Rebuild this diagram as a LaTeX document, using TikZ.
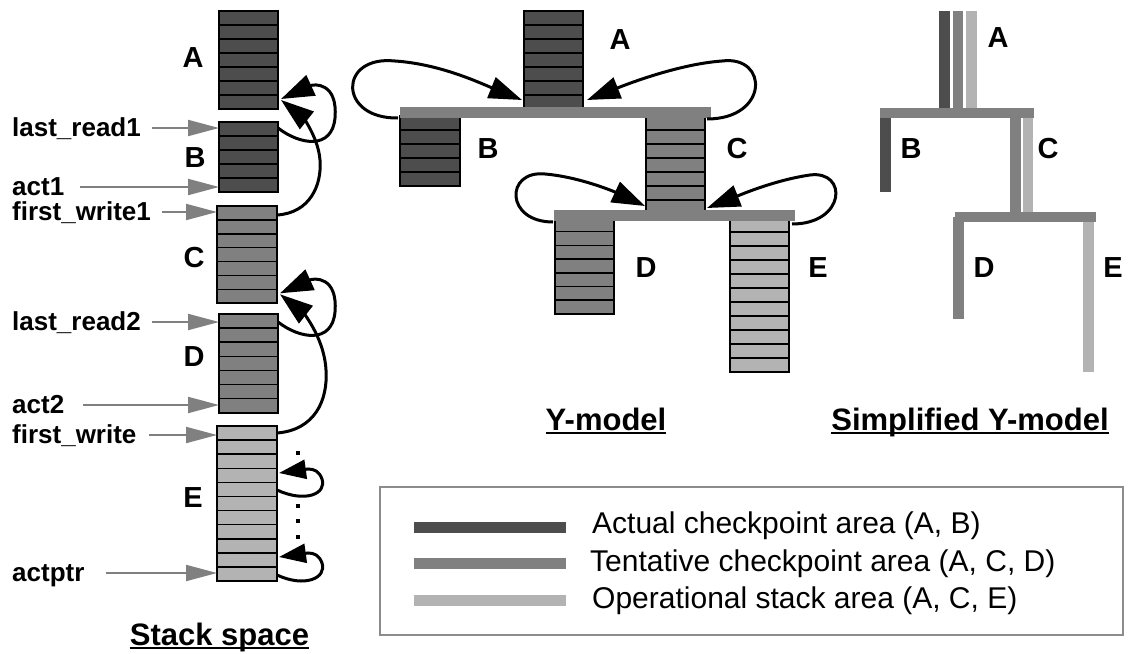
\documentclass[tikz,border=0pt]{standalone}
\usepackage{fontspec}
\setmainfont{Liberation Sans}
\usetikzlibrary{arrows.meta}

\definecolor{darkg}{HTML}{4D4D4D}
\definecolor{midg}{HTML}{808080}
\definecolor{lightg}{HTML}{B3B3B3}
\definecolor{framegray}{HTML}{8C8C8C}

% stack block of rows: name, x, y top, width, rows, row height, fill
\newcommand\rowblock[7]{%
  \pgfmathsetmacro\rbH{#5*#6}%
  \node[blk, fill=#7, minimum width=#4pt, minimum height=\rbH pt, anchor=north west] (#1) at (#2,#3) {};
  \pgfmathtruncatemacro\rbLast{#5-1}%
  \foreach \k in {1,...,\rbLast}{%
    \pgfmathsetmacro\rbY{#3+\k*#6}%
    \draw[rowline] (#2,\rbY) -- ++(#4,0);
  }%
}

\begin{document}
\begin{tikzpicture}[x=1pt,y=-1pt,
  lbl/.style={font=\fontsize{29}{31}\selectfont\bfseries, inner sep=0pt},
  ptrlbl/.style={font=\fontsize{26}{28}\selectfont\bfseries, inner sep=0pt, anchor=west, text height=17pt, text depth=0pt},
  ttl/.style={font=\fontsize{31}{34}\selectfont\bfseries, inner sep=0pt, anchor=base},
  leg/.style={font=\fontsize{30}{32}\selectfont, inner sep=0pt, anchor=base west},
  blk/.style={draw=black, line width=1.8pt, inner sep=0pt, outer sep=0pt},
  rowline/.style={line width=1.5pt},
  loopa/.style={line width=3pt, -{Triangle[length=33pt,width=22pt]}},
  loopb/.style={line width=3pt, -{Triangle[length=27pt,width=19pt]}},
  ptr/.style={draw=midg, line width=2pt, -{Triangle[length=31pt,width=16pt,fill=midg]}},
  uline/.style={line width=2.5pt},
  bar/.style={fill=midg, inner sep=0pt, outer sep=0pt, anchor=north west},
  swatch/.style={line width=11pt},
  dot/.style={fill=black, minimum size=3.5pt, inner sep=0pt},
]
\useasboundingbox (0,0) rectangle (1129,653);

% ---------------- Stack space ----------------
\rowblock{sA}{219}{11}{59}{7}{14}{darkg}
\rowblock{sB}{219}{122}{59}{5}{14}{darkg}
\rowblock{sC}{217}{206}{60}{7}{13.9}{midg}
\rowblock{sD}{219}{314}{59}{7}{14.1}{midg}
\rowblock{sE}{217}{426}{60}{11}{14.1}{lightg}

\node[lbl] (lsA) at (193,58) {A};
\node[lbl] (lsB) at (195,158) {B};
\node[lbl] (lsC) at (194,258) {C};
\node[lbl] (lsD) at (194,357) {D};
\node[lbl] (lsE) at (193,498) {E};

% pointers into the stack
\node[ptrlbl] (plr1) at (12,128) {last\_read1};
\node[ptrlbl] (pact1) at (12,187) {act1};
\node[ptrlbl] (pfw1) at (12,212) {first\_write1};
\node[ptrlbl] (plr2) at (12,322) {last\_read2};
\node[ptrlbl] (pact2) at (12,405) {act2};
\node[ptrlbl] (pfw) at (12,435) {first\_write};
\node[ptrlbl] (pact) at (12,573) {actptr};

\draw[ptr] ([xshift=11pt]plr1.east) -- (plr1.east -| sB.west);
\draw[ptr] ([xshift=16pt]pact1.east) -- (pact1.east -| sB.west);
\draw[ptr] ([xshift=11pt]pfw1.east) -- (pfw1.east -| sC.west);
\draw[ptr] ([xshift=11pt]plr2.east) -- (plr2.east -| sD.west);
\draw[ptr] ([xshift=19pt]pact2.east) -- (pact2.east -| sD.west);
\draw[ptr] ([xshift=12pt]pfw.east) -- (pfw.east -| sE.west);
\draw[ptr] ([xshift=21pt]pact.east) -- (pact.east -| sE.west);

% links between frames
\draw[loopa] ([yshift=-6pt]sB.north east) .. controls (300,145) and (332,150) .. (335,118)
  .. controls (338,82) and (314,84) .. ([shift={(3pt,10pt)}]sA.south east);
\draw[loopa] ([yshift=-9pt]sC.north east) .. controls (310,213) and (322,185) .. (320,160)
  .. controls (318,135) and (300,115) .. ([shift={(3pt,9pt)}]sA.south east);
\draw[loopa] ([yshift=-8pt]sD.north east) .. controls (300,339) and (332,344) .. (335,312)
  .. controls (338,276) and (314,278) .. ([shift={(3pt,10pt)}]sC.south east);
\draw[loopa] ([yshift=-7pt]sE.north east) .. controls (315,430) and (328,400) .. (326,370)
  .. controls (324,335) and (300,310) .. ([shift={(3pt,9pt)}]sC.south east);

% links inside the operational area
\draw[loopb] ([yshift=-64pt]sE.north east) .. controls (305,503) and (327,494) .. (322,479)
  .. controls (319,471) and (314,469) .. (308,469) -- ([shift={(2pt,-47pt)}]sE.north east);
\draw[loopb] ([yshift=-149pt]sE.north east) .. controls (305,588) and (327,578) .. (322,563)
  .. controls (319,555) and (314,553) .. (308,553) -- ([shift={(2pt,-131pt)}]sE.north east);

\node[dot] (d1) at (298,453) {};
\node[dot] (d2) at (298,506) {};
\node[dot] (d3) at (298,521) {};
\node[dot] (d4) at (298,537) {};

\node[ttl] (tS) at (219.5,645) {Stack space};
\draw[uline] ([yshift=-3pt]tS.base west) -- ([yshift=-3pt]tS.base east);

% ---------------- Y-model ----------------
\rowblock{yA}{524}{11}{59}{7}{14}{darkg}
\rowblock{yB}{400}{116}{60}{5}{14}{darkg}
\rowblock{yC}{646}{116}{59}{7}{14}{midg}
\rowblock{yD}{555}{218}{59}{7}{13.7}{midg}
\rowblock{yE}{730}{218}{59}{11}{14}{lightg}
\node[bar, minimum width=311pt, minimum height=11pt] (yBar1) at (400,107) {};
\node[bar, minimum width=241pt, minimum height=11pt] (yBar2) at (554,210) {};

\node[lbl] (lyA) at (620,40) {A};
\node[lbl] (lyB) at (488,149) {B};
\node[lbl] (lyC) at (737,149) {C};
\node[lbl] (lyD) at (646,268) {D};
\node[lbl] (lyE) at (818,268) {E};

\draw[loopa] ([xshift=-2pt]yBar1.south west) .. controls (338,119) and (338,55) .. (395,61)
  .. controls (440,64) and (480,83) .. ([shift={(-2pt,9pt)}]yA.south west);
\draw[loopa] ([shift={(2pt,-3pt)}]yC.north east) .. controls (769,119) and (769,55) .. (722,61)
  .. controls (680,64) and (630,83) .. ([shift={(4pt,9pt)}]yA.south east);
\draw[loopa] ([shift={(-1pt,-1pt)}]yBar2.south west) .. controls (505,222) and (505,170) .. (545,174)
  .. controls (580,177) and (615,192) .. ([shift={(-1pt,8pt)}]yC.south west);
\draw[loopa] ([shift={(3pt,-6pt)}]yE.north east) .. controls (846,224) and (848,170) .. (810,175)
  .. controls (775,180) and (740,195) .. ([shift={(2pt,6pt)}]yC.south east);

\node[ttl] (tY) at (606,430) {Y-model};
\draw[uline] ([yshift=-3pt]tY.base west) -- ([yshift=-3pt]tY.base east);

% ---------------- Simplified Y-model ----------------
\fill[darkg] (939,11) rectangle (950,108);
\fill[midg] (953,11) rectangle (963,108);
\fill[lightg] (966,11) rectangle (977,108);
\fill[midg] (880,108) rectangle (1034,118);
\fill[darkg] (880,118) rectangle (891,192);
\fill[midg] (1010,118) rectangle (1021,212);
\fill[lightg] (1023,118) rectangle (1033,212);
\fill[midg] (955,212) rectangle (1096,222);
\fill[midg] (953,217) rectangle (964,319);
\fill[lightg] (1083,222) rectangle (1094,372);

\node[lbl] (lzA) at (998,38) {A};
\node[lbl] (lzB) at (911,149) {B};
\node[lbl] (lzC) at (1048,149) {C};
\node[lbl] (lzD) at (984,268) {D};
\node[lbl] (lzE) at (1113,268) {E};

\node[ttl] (tZ) at (970,430) {Simplified Y-model};
\draw[uline] ([yshift=-3pt]tZ.base west) -- ([yshift=-3pt]tZ.base east);

% ---------------- Legend ----------------
\node[draw=framegray, line width=1.5pt, minimum width=743pt, minimum height=148pt,
      anchor=north west, inner sep=0pt] (legend) at (379,486) {};
\draw[swatch, darkg] (414,527.5) -- (566,527.5);
\draw[swatch, midg] (414,563.5) -- (566,563.5);
\draw[swatch, lightg] (414,600.5) -- (566,600.5);
\node[leg] (g1) at (592,533) {Actual checkpoint area (A, B)};
\node[leg] (g2) at (590,571) {Tentative checkpoint area (A, C, D)};
\node[leg] (g3) at (592,608) {Operational stack area (A, C, E)};
\end{tikzpicture}
\end{document}
